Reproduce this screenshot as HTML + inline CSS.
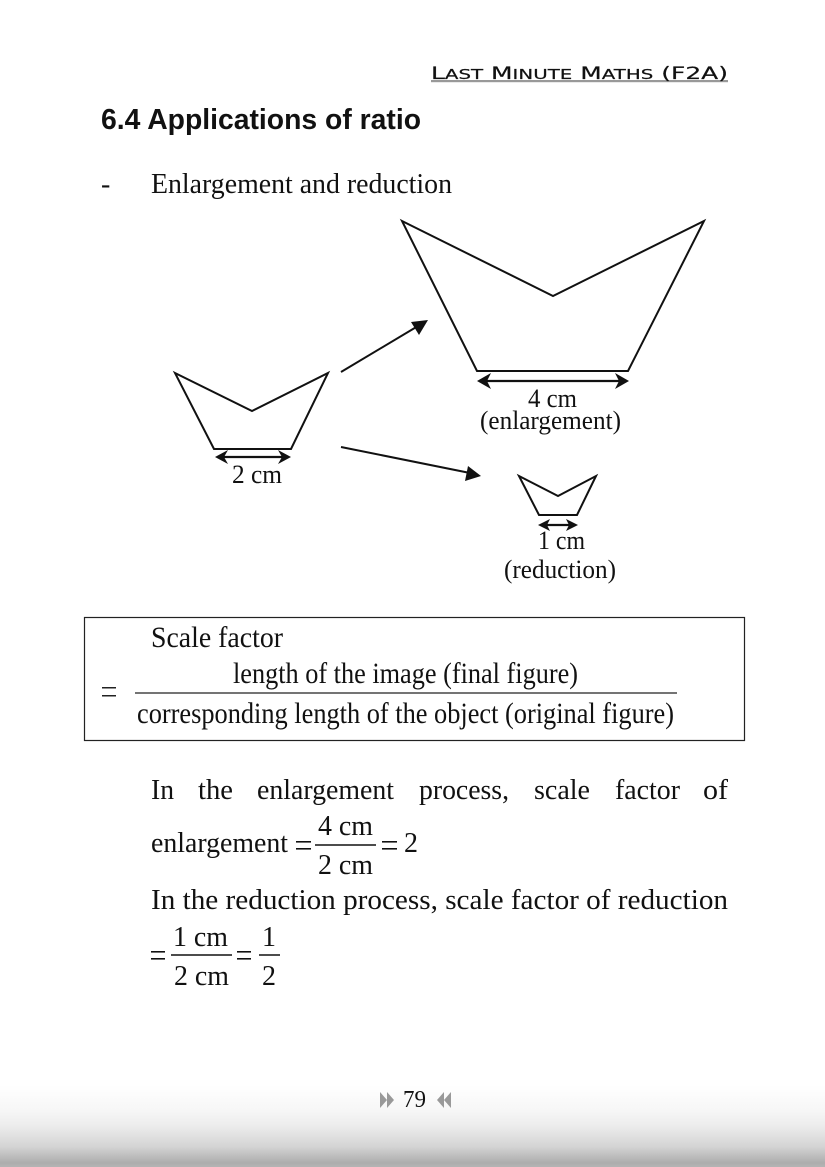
<!DOCTYPE html>
<html>
<head>
<meta charset="utf-8">
<style>
html,body{margin:0;padding:0;background:#fff;}
body{width:825px;height:1167px;overflow:hidden;}
svg{display:block;}
.t{font-family:"Liberation Serif",serif;font-size:28px;fill:#111;}
.b{font-size:30px;}
.m{font-size:26px;}
.s{fill:none;stroke:#111;stroke-width:2;stroke-linejoin:miter;}
.l{fill:none;stroke:#111;stroke-width:2.2;}
</style>
</head>
<body>
<svg width="825" height="1167" viewBox="0 0 825 1167" xmlns="http://www.w3.org/2000/svg">
<defs>
<linearGradient id="g" x1="0" y1="0" x2="0" y2="1">
<stop offset="0" stop-color="#ffffff"/>
<stop offset="0.3" stop-color="#f7f7f7"/>
<stop offset="0.5" stop-color="#ececec"/>
<stop offset="0.75" stop-color="#d4d4d4"/>
<stop offset="0.95" stop-color="#adadad"/>
<stop offset="1" stop-color="#b4b4b4"/>
</linearGradient>
</defs>
<rect width="825" height="1167" fill="#fff"/>
<rect x="0" y="1085" width="825" height="82" fill="url(#g)"/>

<!-- header -->
<rect x="431" y="80" width="297" height="2.2" fill="#999"/>
<text x="431" y="79" textLength="297" lengthAdjust="spacingAndGlyphs" font-family="'DejaVu Sans',sans-serif" font-size="17" fill="#111" stroke="#111" stroke-width="0.2">L<tspan font-size="13.5">AST</tspan> M<tspan font-size="13.5">INUTE</tspan> M<tspan font-size="13.5">ATHS</tspan> (F2A)</text>

<!-- title -->
<text x="101" y="129" textLength="320" lengthAdjust="spacingAndGlyphs" font-family="'Liberation Sans',sans-serif" font-weight="bold" font-size="29" fill="#111">6.4  Applications of ratio</text>

<text class="t" x="101" y="193">-</text>
<text class="t" x="151" y="193" textLength="301" lengthAdjust="spacingAndGlyphs">Enlargement and reduction</text>

<!-- large figure -->
<polygon class="s" points="402,221 553,296 704,221 628,371 477,371"/>
<line class="l" x1="484" y1="381" x2="622" y2="381"/>
<polygon points="477,381 491,373 487,381 491,389" fill="#111"/>
<polygon points="629,381 615,373 619,381 615,389" fill="#111"/>
<text class="t m" x="528" y="407" textLength="49" lengthAdjust="spacingAndGlyphs">4 cm</text>
<text class="t m" x="480" y="429" textLength="141" lengthAdjust="spacingAndGlyphs">(enlargement)</text>

<!-- small figure -->
<polygon class="s" points="175,373 252,411 328,373 291,449 214,449"/>
<line class="l" x1="222" y1="457" x2="284" y2="457"/>
<polygon points="215,457 228,450 224,457 228,464" fill="#111"/>
<polygon points="291,457 278,450 282,457 278,464" fill="#111"/>
<text class="t m" x="232" y="483" textLength="50" lengthAdjust="spacingAndGlyphs">2 cm</text>

<!-- arrows -->
<line x1="341" y1="372" x2="418" y2="326" stroke="#111" stroke-width="2"/>
<polygon points="428,320 419,335 411,322" fill="#111"/>
<line x1="341" y1="447" x2="470" y2="473" stroke="#111" stroke-width="2"/>
<polygon points="481,476 465,481 468,466" fill="#111"/>

<!-- tiny figure -->
<polygon class="s" points="519,476 558,496 596,476 577,515 539,515"/>
<line class="l" x1="544" y1="525" x2="572" y2="525"/>
<polygon points="538,525 550,519 547,525 550,531" fill="#111"/>
<polygon points="578,525 566,519 569,525 566,531" fill="#111"/>
<text class="t m" x="538" y="549" textLength="47" lengthAdjust="spacingAndGlyphs">1 cm</text>
<text class="t m" x="504" y="578" textLength="112" lengthAdjust="spacingAndGlyphs">(reduction)</text>

<!-- box -->
<rect x="84.5" y="617.5" width="660" height="123" fill="none" stroke="#222" stroke-width="1.2"/>
<text class="t b" x="151" y="647" textLength="132" lengthAdjust="spacingAndGlyphs">Scale factor</text>
<text class="t b" x="233" y="683" textLength="345" lengthAdjust="spacingAndGlyphs">length of the image (final figure)</text>
<line x1="135" y1="693" x2="677" y2="693" stroke="#222" stroke-width="1.2"/>
<text class="t b" x="137" y="723" textLength="537" lengthAdjust="spacingAndGlyphs">corresponding length of the object (original figure)</text>
<rect x="102" y="687" width="14" height="1.5" fill="#222"/>
<rect x="102" y="695" width="14" height="1.5" fill="#222"/>

<!-- paragraph -->
<text class="t" x="151" y="799" textLength="23" lengthAdjust="spacingAndGlyphs">In</text>
<text class="t" x="198" y="799" textLength="35" lengthAdjust="spacingAndGlyphs">the</text>
<text class="t" x="257" y="799" textLength="137" lengthAdjust="spacingAndGlyphs">enlargement</text>
<text class="t" x="419" y="799" textLength="90" lengthAdjust="spacingAndGlyphs">process,</text>
<text class="t" x="534" y="799" textLength="56" lengthAdjust="spacingAndGlyphs">scale</text>
<text class="t" x="615" y="799" textLength="65" lengthAdjust="spacingAndGlyphs">factor</text>
<text class="t" x="703" y="799" textLength="25" lengthAdjust="spacingAndGlyphs">of</text>

<text class="t" x="151" y="852" textLength="137" lengthAdjust="spacingAndGlyphs">enlargement</text>
<rect x="296" y="841" width="15" height="1.6" fill="#111"/>
<rect x="296" y="848" width="15" height="1.6" fill="#111"/>
<text class="t" x="318" y="835" textLength="55" lengthAdjust="spacingAndGlyphs">4 cm</text>
<line x1="315" y1="845" x2="376" y2="845" stroke="#111" stroke-width="1.5"/>
<text class="t" x="318" y="874" textLength="55" lengthAdjust="spacingAndGlyphs">2 cm</text>
<rect x="382" y="841" width="15" height="1.6" fill="#111"/>
<rect x="382" y="848" width="15" height="1.6" fill="#111"/>
<text class="t" x="404" y="852">2</text>

<text class="t" x="151" y="909" textLength="577" lengthAdjust="spacingAndGlyphs">In the reduction process, scale factor of reduction</text>

<rect x="151" y="951" width="14" height="1.6" fill="#111"/>
<rect x="151" y="958" width="14" height="1.6" fill="#111"/>
<text class="t" x="173" y="946" textLength="55" lengthAdjust="spacingAndGlyphs">1 cm</text>
<line x1="171" y1="955" x2="232" y2="955" stroke="#111" stroke-width="1.5"/>
<text class="t" x="174" y="985" textLength="55" lengthAdjust="spacingAndGlyphs">2 cm</text>
<rect x="237" y="951" width="14" height="1.6" fill="#111"/>
<rect x="237" y="958" width="14" height="1.6" fill="#111"/>
<text class="t" x="262" y="946">1</text>
<line x1="259" y1="955" x2="280" y2="955" stroke="#111" stroke-width="1.5"/>
<text class="t" x="262" y="985">2</text>

<!-- page number -->
<polygon points="380,1092 387,1100 380,1108" fill="#999"/>
<polygon points="387,1092 394,1100 387,1108" fill="#999"/>
<text x="403" y="1107" textLength="23" lengthAdjust="spacingAndGlyphs" font-family="'Liberation Serif',serif" font-size="24" fill="#111">79</text>
<polygon points="444,1100 451,1092 451,1108" fill="#999"/>
<polygon points="437,1100 444,1092 444,1108" fill="#999"/>
</svg>
</body>
</html>
